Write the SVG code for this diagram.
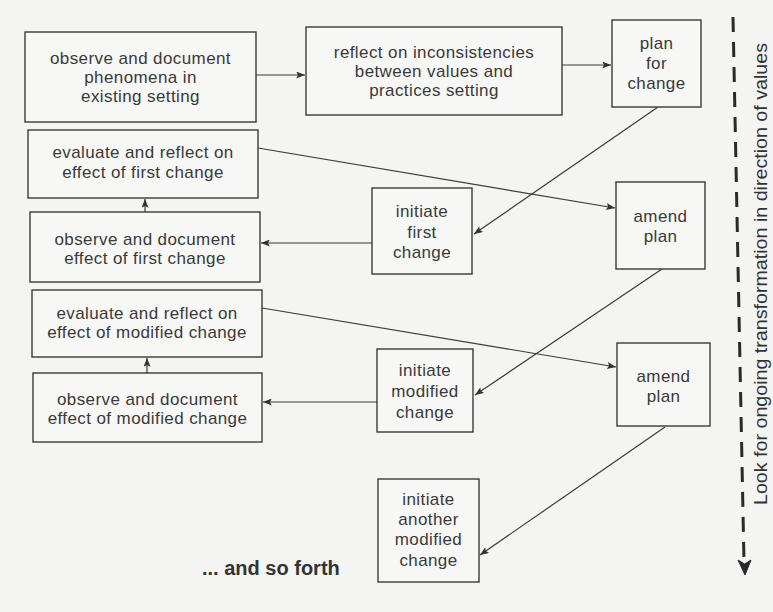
<svg xmlns="http://www.w3.org/2000/svg" width="773" height="612" viewBox="0 0 773 612">
<defs>
<marker id="ah" viewBox="0 0 10 8" refX="10" refY="4" markerWidth="10" markerHeight="7" markerUnits="userSpaceOnUse" orient="auto">
<path d="M0,0 L10,4 L0,8 L2,4 Z" fill="#333"/>
</marker>
<style>
.box{fill:#f7f7f5;stroke:#3a3a3a;stroke-width:1.4}
.t{font-family:"Liberation Sans",Arial,sans-serif;font-size:17px;fill:#3a3a3a;text-anchor:middle;letter-spacing:0.4px}
.c{stroke:#3a3a3a;stroke-width:1.2;fill:none;marker-end:url(#ah)}
</style>
</defs>
<rect x="0" y="0" width="773" height="612" fill="#f4f4f2"/>

<g id="connectors">
<line class="c" x1="256" y1="75" x2="305" y2="75"/>
<line class="c" x1="562" y1="65" x2="611" y2="65"/>
<line class="c" x1="658" y1="107" x2="474" y2="234"/>
<line class="c" x1="372" y1="243" x2="261" y2="243"/>
<line class="c" x1="145" y1="212" x2="145" y2="199"/>
<line class="c" x1="258" y1="148" x2="615" y2="208"/>
<line class="c" x1="662" y1="269" x2="475" y2="395"/>
<line class="c" x1="377" y1="402" x2="263" y2="402"/>
<line class="c" x1="147" y1="373" x2="147" y2="358"/>
<line class="c" x1="262" y1="308" x2="616" y2="367"/>
<line class="c" x1="665" y1="427" x2="480" y2="555"/>
<line x1="733" y1="17" x2="744" y2="562" stroke="#2a2a2a" stroke-width="3" stroke-dasharray="15 10"/>
<path d="M745,575 L738,560 L744.6,564 L751,560 Z" fill="#2a2a2a" stroke="#2a2a2a" stroke-width="1"/>
</g>

<g id="n1"><rect class="box" x="25" y="32" width="231" height="90"/>
<text class="t" x="140.5" y="64">observe and document</text>
<text class="t" x="140.5" y="83">phenomena in</text>
<text class="t" x="140.5" y="102">existing setting</text></g>

<g id="n2"><rect class="box" x="306" y="27" width="256" height="88"/>
<text class="t" x="434" y="58">reflect on inconsistencies</text>
<text class="t" x="434" y="77">between values and</text>
<text class="t" x="434" y="96">practices setting</text></g>

<g id="n3"><rect class="box" x="612" y="20" width="89" height="87"/>
<text class="t" x="656.5" y="49">plan</text>
<text class="t" x="656.5" y="69">for</text>
<text class="t" x="656.5" y="89">change</text></g>

<g id="n4"><rect class="box" x="28" y="130" width="230" height="68"/>
<text class="t" x="143" y="158">evaluate and reflect on</text>
<text class="t" x="143" y="178">effect of first change</text></g>

<g id="n5"><rect class="box" x="30" y="212" width="230" height="70"/>
<text class="t" x="145" y="245">observe and document</text>
<text class="t" x="145" y="264">effect of first change</text></g>

<g id="n6"><rect class="box" x="32" y="290" width="230" height="67"/>
<text class="t" x="147" y="319">evaluate and reflect on</text>
<text class="t" x="147" y="338">effect of modified change</text></g>

<g id="n7"><rect class="box" x="33" y="373" width="229" height="69"/>
<text class="t" x="147.5" y="405">observe and document</text>
<text class="t" x="147.5" y="424">effect of modified change</text></g>

<g id="n8"><rect class="box" x="372" y="188" width="100" height="86"/>
<text class="t" x="422" y="217">initiate</text>
<text class="t" x="422" y="238">first</text>
<text class="t" x="422" y="258">change</text></g>

<g id="n9"><rect class="box" x="616" y="182" width="89" height="87"/>
<text class="t" x="660.5" y="222">amend</text>
<text class="t" x="660.5" y="242">plan</text></g>

<g id="n10"><rect class="box" x="377" y="349" width="96" height="83"/>
<text class="t" x="425" y="376">initiate</text>
<text class="t" x="425" y="397">modified</text>
<text class="t" x="425" y="418">change</text></g>

<g id="n11"><rect class="box" x="617" y="343" width="93" height="83"/>
<text class="t" x="663.5" y="382">amend</text>
<text class="t" x="663.5" y="402">plan</text></g>

<g id="n12"><rect class="box" x="378" y="479" width="101" height="103"/>
<text class="t" x="428.5" y="505">initiate</text>
<text class="t" x="428.5" y="525">another</text>
<text class="t" x="428.5" y="545">modified</text>
<text class="t" x="428.5" y="566">change</text></g>

<g id="labels">
<text x="202" y="575" font-family="'Liberation Sans',Arial,sans-serif" font-size="20" font-weight="bold" fill="#333">... and so forth</text>
<text transform="translate(767,505) rotate(-90)" font-family="'Liberation Sans',Arial,sans-serif" font-size="18" fill="#333" textLength="462" lengthAdjust="spacingAndGlyphs">Look for ongoing transformation in direction of values</text>
</g>
</svg>
